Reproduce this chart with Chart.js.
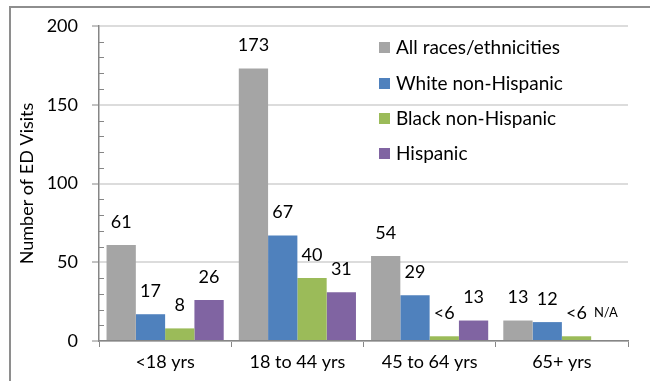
<!DOCTYPE html>
<html>
<head>
<meta charset="utf-8">
<script src="https://cdn.jsdelivr.net/npm/chart.js@4/dist/chart.umd.min.js"></script>
<style>
  body { margin: 0; background: #fff; }
  #frame { position: absolute; left: 9px; top: 6px; width: 641px; height: 375px;
           border-top: 2px solid #8e8e8e; border-left: 2px solid #8e8e8e; box-sizing: border-box; }
  #wrap { position: absolute; left: 0; top: 0; width: 650px; height: 381px; }
</style>
</head>
<body>
<div id="frame"></div>
<div id="wrap"><canvas id="edChart" width="650" height="381"></canvas></div>
<script>
const ageGroups = ['<18 yrs', '18 to 44 yrs', '45 to 64 yrs', '65+ yrs'];
const seriesNames = ['All races/ethnicities', 'White non-Hispanic', 'Black non-Hispanic', 'Hispanic'];
const seriesColors = ['#A5A5A5', '#4F81BD', '#9BBB59', '#8064A2'];

// "<6" bars are drawn at a small estimated height; Hispanic 65+ is not available
const allRaces = [61, 173, 54, 13];
const whiteNH = [17, 67, 29, 12];
const blackNH = [8, 40, 3, 3];
const hispanic = [26, 31, 13, null];

const allRacesText = ['61', '173', '54', '13'];
const whiteText = ['17', '67', '29', '12'];
const blackText = ['8', '40', '<6', '<6'];
const hispanicText = ['26', '31', '13', 'N/A'];

const yTicks = [0, 50, 100, 150, 200];

const seriesValues = [allRaces, whiteNH, blackNH, hispanic];
const seriesText = [allRacesText, whiteText, blackText, hispanicText];
const FONT = 'Lato';
const FS = 18;
const AXIS = '#868686';

// small inside tick marks every 10 on the y axis
const minorTicks = {
    id: 'minorTicks',
    afterDraw(chart) {
        const y = chart.scales.y;
        const ctx = chart.ctx;
        ctx.save();
        ctx.strokeStyle = AXIS;
        ctx.lineWidth = 1;
        for (let v = 10; v < 200; v += 10) {
            if (v % 50 === 0) continue;
            const py = Math.round(y.getPixelForValue(v)) + 0.5;
            ctx.beginPath();
            ctx.moveTo(chart.chartArea.left, py);
            ctx.lineTo(chart.chartArea.left + 5, py);
            ctx.stroke();
        }
        ctx.restore();
    }
};

// value labels above the bars
const barLabels = {
    id: 'barLabels',
    afterDatasetsDraw(chart) {
        const ctx = chart.ctx;
        const y = chart.scales.y;
        ctx.save();
        ctx.fillStyle = '#000';
        ctx.textAlign = 'center';
        ctx.textBaseline = 'middle';
        chart.data.datasets.forEach((ds, i) => {
            const meta = chart.getDatasetMeta(i);
            meta.data.forEach((bar, j) => {
                const txt = seriesText[i][j];
                const val = ds.data[j];
                if (val === null) {
                    ctx.font = '13px ' + FONT;
                    ctx.fillText(txt, bar.x, y.getPixelForValue(0) - 28);
                } else {
                    ctx.font = FS + 'px ' + FONT;
                    ctx.fillText(txt, bar.x, y.getPixelForValue(val) - 23);
                }
            });
        });
        ctx.restore();
    }
};

// legend drawn inside the plot, upper right
const insideLegend = {
    id: 'insideLegend',
    afterDraw(chart) {
        const ctx = chart.ctx;
        const rows = [47, 83, 118, 153];
        ctx.save();
        ctx.font = '19px ' + FONT;
        ctx.textBaseline = 'middle';
        chart.data.datasets.forEach((ds, i) => {
            ctx.fillStyle = ds.backgroundColor;
            ctx.fillRect(379, rows[i] - 5, 11, 11);
            ctx.fillStyle = '#000';
            ctx.fillText(ds.label, 396, rows[i] + 1);
        });
        ctx.restore();
    }
};

new Chart(document.getElementById('edChart').getContext('2d'), {
    type: 'bar',
    data: {
        labels: ageGroups,
        datasets: seriesNames.map((name, i) => ({
            label: name,
            data: seriesValues[i],
            backgroundColor: seriesColors[i],
            categoryPercentage: 0.886,
            barPercentage: 1
        }))
    },
    options: {
        responsive: false,
        animation: false,
        layout: { padding: { left: 0, top: 26, right: 22, bottom: 0 } },
        plugins: { legend: { display: false }, tooltip: { enabled: false } },
        scales: {
            x: {
                afterFit: (s) => { s.height = 40; },
                grid: { offset: true, drawOnChartArea: false, color: AXIS, tickLength: 6 },
                border: { color: AXIS, width: 1.5 },
                ticks: { color: '#000', font: { family: FONT, size: FS }, padding: 4 }
            },
            y: {
                min: 0, max: 200,
                afterFit: (s) => { s.width = 99; },
                afterBuildTicks: (s) => { s.ticks = yTicks.map(v => ({ value: v })); },
                grid: { color: '#DCDCDC', lineWidth: 2, tickColor: AXIS, tickLength: 7, tickWidth: 1 },
                border: { color: AXIS, width: 1.5 },
                ticks: { color: '#000', font: { family: FONT, size: FS }, padding: 14 },
                title: { display: true, text: 'Number of ED Visits', color: '#000',
                         font: { family: FONT, size: FS }, padding: { top: 16, bottom: 0 } }
            }
        }
    },
    plugins: [minorTicks, barLabels, insideLegend]
});
</script>
</body>
</html>
